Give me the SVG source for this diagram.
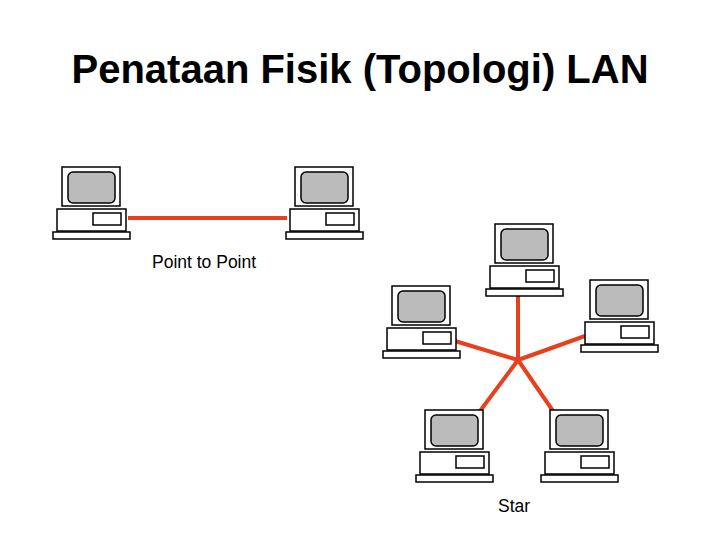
<svg xmlns="http://www.w3.org/2000/svg" width="720" height="540" viewBox="0 0 720 540">
<style>
.o{fill:#fff;stroke:#000;stroke-width:1.5}
.s{fill:#bbb;stroke:#000;stroke-width:1.5}
.l{stroke:#e8401c;stroke-width:4;fill:none}
text{font-family:"Liberation Sans",Arial,sans-serif;fill:#000}
</style>
<defs>
<g id="pc">
<rect class="o" x="0" y="0" width="58" height="39"/>
<rect class="s" x="6" y="5" width="47" height="31" rx="5"/>
<rect class="o" x="-5" y="42" width="69" height="22"/>
<rect class="o" x="31" y="46" width="28" height="12"/>
<rect class="o" x="-9" y="65" width="77" height="7"/>
</g>
</defs>
<rect width="720" height="540" fill="#fff"/>
<text x="360" y="83" font-size="40" font-weight="bold" text-anchor="middle">Penataan Fisik (Topologi) LAN</text>
<g id="connectors">
<line class="l" x1="128" y1="218" x2="287" y2="218"/>
<line class="l" x1="518" y1="296" x2="518" y2="360"/>
<line class="l" x1="455" y1="341" x2="518" y2="360"/>
<line class="l" x1="585" y1="336" x2="518" y2="360"/>
<line class="l" x1="480" y1="411" x2="518" y2="360"/>
<line class="l" x1="553" y1="411" x2="518" y2="360"/>
</g>
<g id="pc1"><use href="#pc" x="62" y="167"/></g>
<g id="pc2"><use href="#pc" x="295" y="167"/></g>
<g id="pc3"><use href="#pc" x="495" y="224"/></g>
<g id="pc4"><use href="#pc" x="392" y="286"/></g>
<g id="pc5"><use href="#pc" x="590" y="280"/></g>
<g id="pc6"><use href="#pc" x="425" y="410"/></g>
<g id="pc7"><use href="#pc" x="550" y="410"/></g>
<text x="152" y="268" font-size="17.5">Point to Point</text>
<text x="498" y="512" font-size="17.5">Star</text>
</svg>
